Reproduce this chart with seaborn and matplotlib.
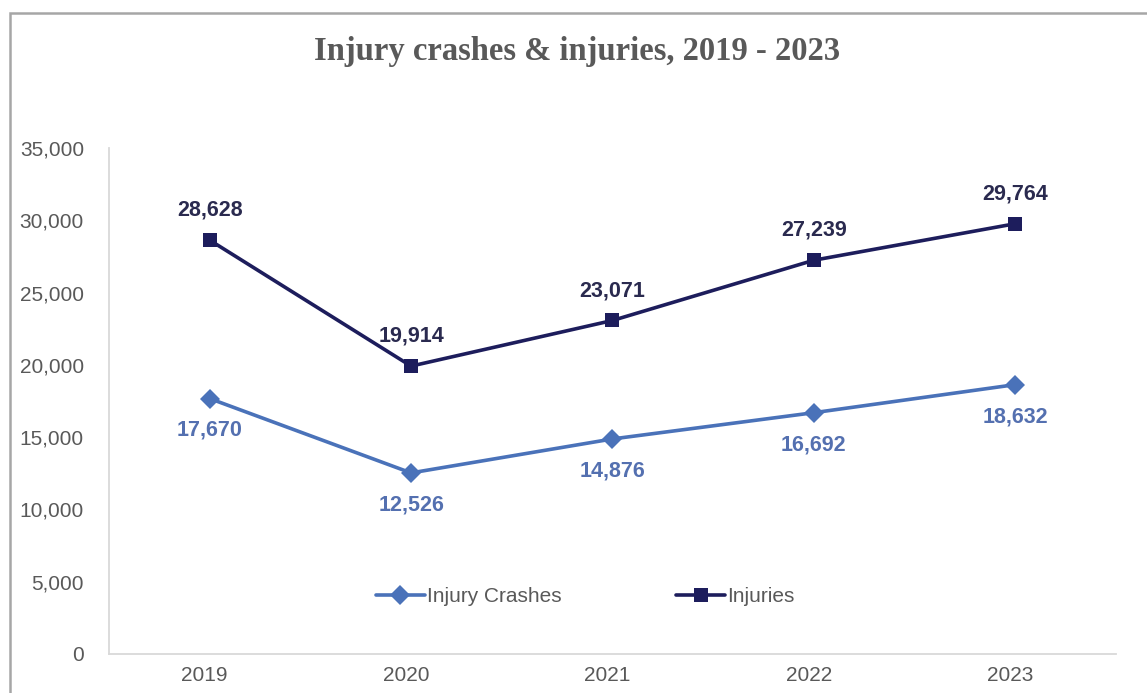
import matplotlib
matplotlib.use("Agg")
import matplotlib.pyplot as plt
from matplotlib.patches import Rectangle
from matplotlib.ticker import FuncFormatter
from matplotlib.transforms import ScaledTranslation
import seaborn as sns
import pandas as pd

years = ["2019", "2020", "2021", "2022", "2023"]
injury_crashes = [17670, 12526, 14876, 16692, 18632]
injuries = [28628, 19914, 23071, 27239, 29764]
series_names = ["Injury Crashes", "Injuries"]
y_ticks = [0, 5000, 10000, 15000, 20000, 25000, 30000, 35000]

crash_color = "#4a72b9"
injury_color = "#1d1d5c"
crash_label_color = "#5470b0"
injury_label_color = "#2a2a4f"
text_gray = "#595959"

df = pd.DataFrame({
    "year": years * 2,
    "value": injury_crashes + injuries,
    "series": [series_names[0]] * len(years) + [series_names[1]] * len(years),
})

sns.set_theme(style="white")
plt.rcParams["font.family"] = ["Liberation Sans", "DejaVu Sans"]

fig = plt.figure(figsize=(11.47, 6.93), dpi=100)
ax = fig.add_axes([0.0950, 0.0563, 0.878, 0.7301])

sns.lineplot(
    data=df, x="year", y="value", hue="series", style="series",
    palette={series_names[0]: crash_color, series_names[1]: injury_color},
    markers={series_names[0]: "D", series_names[1]: "s"},
    dashes=False, linewidth=2.6, markersize=10, markeredgewidth=0,
    ax=ax, sort=False,
)

ax.set_xlim(-0.5, len(years) - 0.5)
ax.set_ylim(0, 35000)
ax.set_yticks(y_ticks)
ax.yaxis.set_major_formatter(FuncFormatter(lambda v, p: f"{int(v):,}"))
ax.set_xlabel("")
ax.set_ylabel("")
ax.tick_params(axis="both", length=0, labelsize=15, colors=text_gray)
ax.tick_params(axis="y", pad=18)
ax.tick_params(axis="x", pad=9)

# category labels sit slightly left of their points
shift = ScaledTranslation(-5 / 100, 0, fig.dpi_scale_trans)
for lbl in ax.get_xticklabels():
    lbl.set_transform(lbl.get_transform() + shift)

for side in ("top", "right"):
    ax.spines[side].set_visible(False)
for side in ("left", "bottom"):
    ax.spines[side].set_color("#d9d9d9")
    ax.spines[side].set_linewidth(1.3)

# value labels: injuries above the points, crashes below
for i, v in enumerate(injuries):
    ax.annotate(f"{v:,}", (i, v), xytext=(0, 21.5), textcoords="offset points",
                ha="center", va="center", fontsize=15.5, fontweight="bold",
                color=injury_label_color)
for i, v in enumerate(injury_crashes):
    ax.annotate(f"{v:,}", (i, v), xytext=(0, -23), textcoords="offset points",
                ha="center", va="center", fontsize=15.5, fontweight="bold",
                color=crash_label_color)

handles, labels = ax.get_legend_handles_labels()
ax.legend(handles, labels, loc="center", bbox_to_anchor=(0.473, 0.113),
          ncol=2, frameon=False, fontsize=15, handlelength=2.35,
          handletextpad=0.1, columnspacing=5.5, labelcolor=text_gray)

fig.suptitle("Injury crashes & injuries, 2019 - 2023", x=0.503, y=0.926,
             va="center", fontsize=23.5, fontweight="bold", color=text_gray,
             family=["Liberation Serif", "DejaVu Serif"])

# outer chart frame, open to the right and bottom edges
frame = Rectangle((10 / 1147, -0.1), 1.2, 1 - 13 / 693 + 0.1,
                  transform=fig.transFigure, fill=False,
                  edgecolor="#a6a6a6", linewidth=1.8, clip_on=False)
fig.add_artist(frame)

fig.savefig("out.png", dpi=100, facecolor="white")
